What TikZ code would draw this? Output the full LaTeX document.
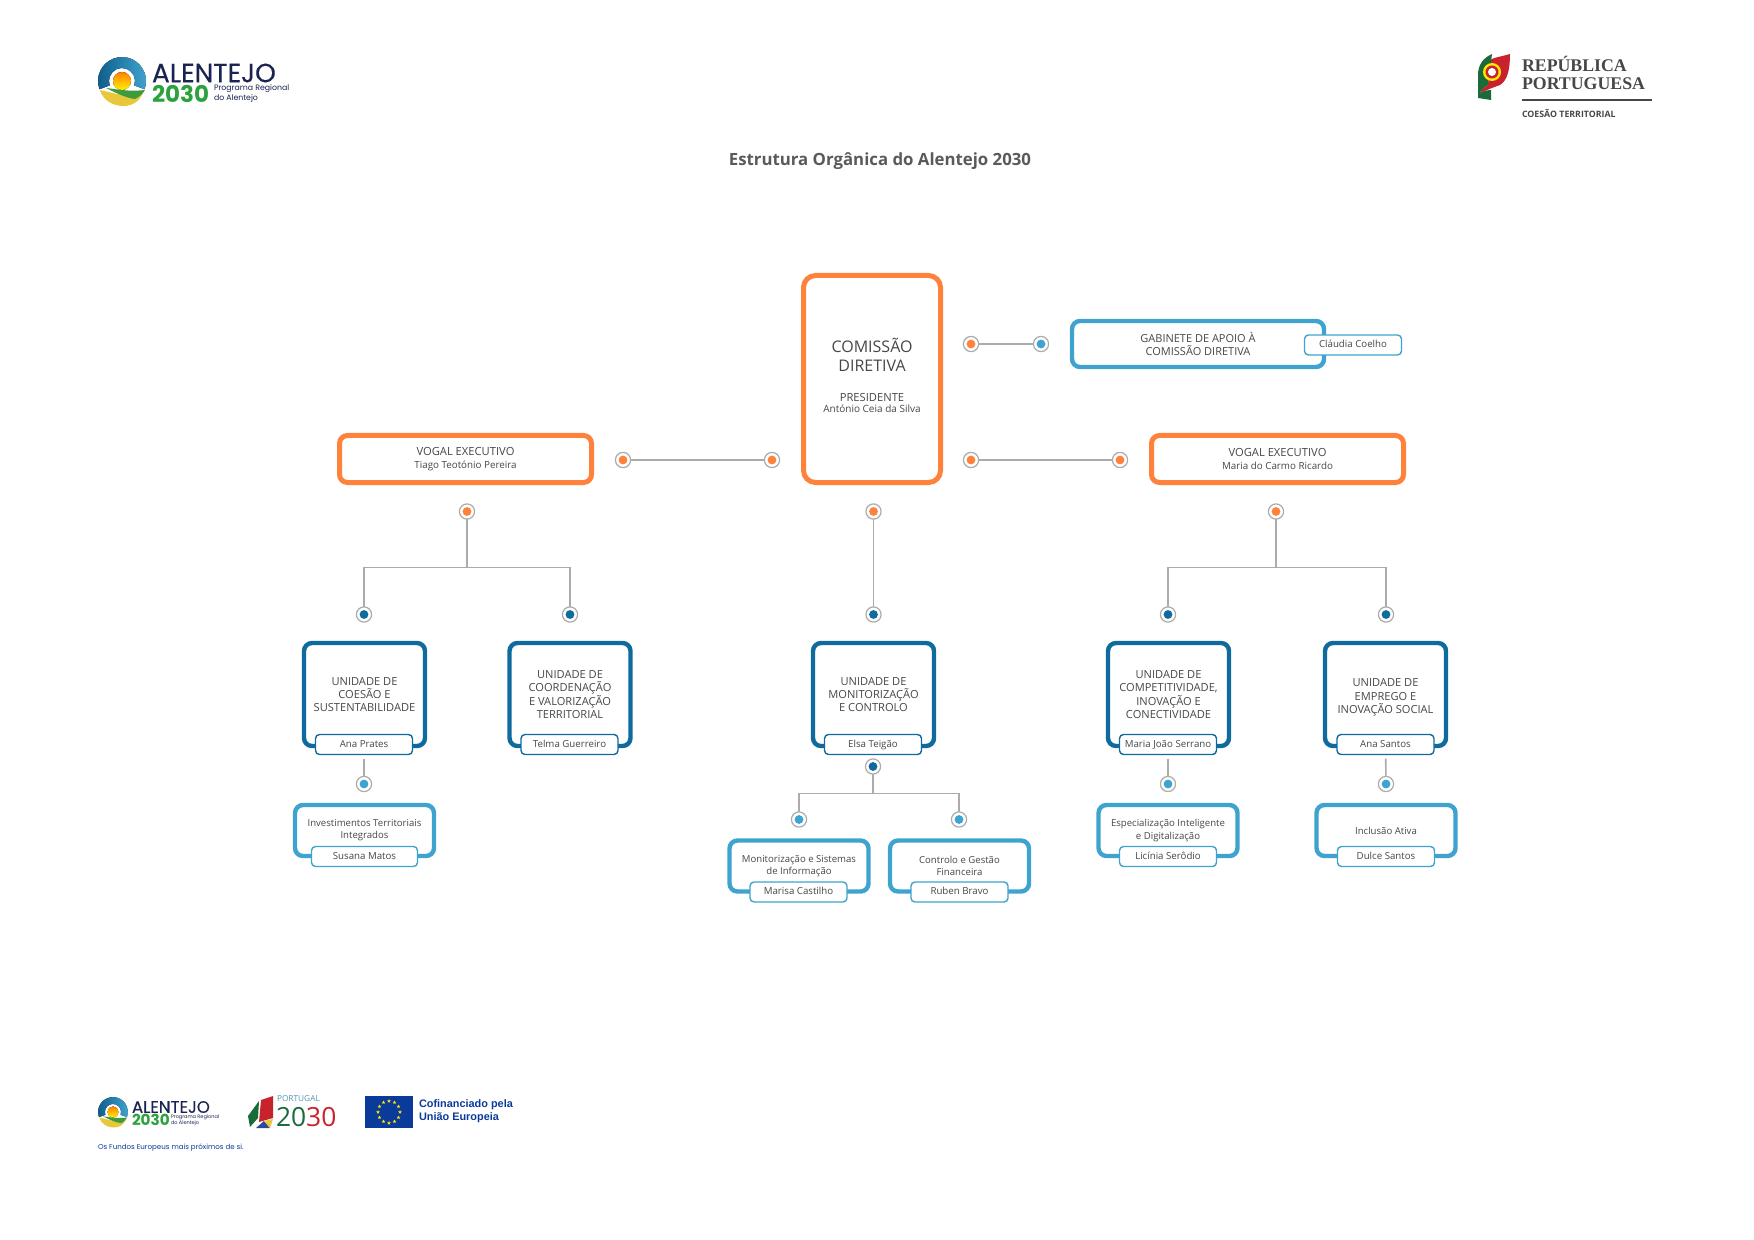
\documentclass[tikz,border=0pt]{standalone}
\usepackage{fontspec}
\setmainfont{Open Sans}
\newfontfamily\logofont{Poppins}
\newfontfamily\logomed[FakeBold=.35]{Poppins}
\newfontfamily\serifont{Liberation Serif}
\newfontfamily\eufont{Liberation Sans}
\usetikzlibrary{shapes.geometric,shadows}
\definecolor{laranja}{HTML}{FF823C}
\definecolor{azulEsc}{HTML}{0F6A9E}
\definecolor{azulCla}{HTML}{3FA3CF}
\definecolor{linha}{HTML}{ABABAB}
\definecolor{texto}{HTML}{474747}
\definecolor{marinho}{HTML}{1B2350}
\definecolor{verde}{HTML}{2BA23B}
\definecolor{euazul}{HTML}{0A3A9A}
\definecolor{verdeLogo}{HTML}{3E9A3A}
\definecolor{amareloLogo}{HTML}{E8C83A}
\definecolor{ptVerde}{HTML}{1A6B3A}
\definecolor{ptVermelho}{HTML}{C8232C}
\definecolor{ptAzul}{HTML}{2A4A9A}
\tikzset{
  box/.style={draw=#1,fill=white,line width=2.2pt,rounded corners=4pt,align=center,text=texto,inner sep=0pt,outer sep=0pt},
  tagbox/.style={draw=#1,fill=white,line width=.7pt,rounded corners=2pt,minimum width=48.5pt,minimum height=10pt,text=texto,
    text height=3.6pt,text depth=1.1pt,inner sep=0pt,outer sep=0pt,font=\fontsize{4.85}{5.5}\selectfont},
  unitbox/.style={box=azulEsc,minimum width=60.5pt,minimum height=51.5pt,font=\fontsize{5.55}{6.7}\selectfont},
  subbox/.style={box=azulCla,minimum width=69.5pt,minimum height=25.5pt,font=\fontsize{4.8}{6.1}\selectfont},
  vogalbox/.style={box=laranja,line width=2.5pt,minimum width=126pt,minimum height=23.5pt,font=\fontsize{5.6}{6.2}\selectfont},
  orgdot/.style={circle,draw=linha,fill=white,line width=.6pt,inner sep=0pt,outer sep=0pt,minimum size=7.6pt,
    path picture={\fill[#1] (path picture bounding box.center) circle (2.2pt);}},
  conn/.style={draw=linha,line width=.8pt},
  logotext/.style={inner sep=0pt,outer sep=0pt,anchor=west},
  alentejo/.pic={
    \begin{scope}[yscale=-1]
      \fill[left color=azulEsc!85!black,right color=azulCla] (200:24) arc (200:-20:24) -- (-20:13) arc (-20:200:13) -- cycle;
      \fill[top color=orange,bottom color=yellow!90!orange] (0,0) circle (9);
      \fill[amareloLogo] (-22,-9) .. controls (-19,-20) and (-8,-25) .. (1,-25) .. controls (10,-25) and (17,-21) .. (21,-12) .. controls (8,-18) and (-8,-12) .. cycle;
      \fill[verdeLogo] (-16,-7) .. controls (-6,-8) and (6,-11) .. (23,-9) .. controls (20,-14) and (17,-16) .. (13,-18) .. controls (4,-17) and (-6,-12) .. cycle;
    \end{scope}
  }
}
\begin{document}
\begin{tikzpicture}[x=0.5pt,y=-0.5pt]
  \useasboundingbox (0,0) rectangle (1754,1240);

  \pic at (122,81) {alentejo};
  \node[logotext,text=marinho] (logoNome) at (152,73) {\logomed\fontsize{13.2}{14}\selectfont ALENTEJO};
  \node[logotext,text=verde] (logoAno) at (152,94) {\logofont\bfseries\fontsize{11.5}{12}\selectfont 2030};
  \node[logotext,text=marinho,align=left,font=\fontsize{3.9}{4}\selectfont] (logoProg) at (214,94) {\logofont Programa Regional\\\logofont do Alentejo};

  \fill[ptVermelho] (1510,54) .. controls (1500,57) and (1495,57) .. (1490,60) -- (1488,85) .. controls (1484,87) and (1481,90) .. (1479,94) .. controls (1486,90) and (1492,88) .. (1500,85) .. controls (1508,80) and (1510,68) .. cycle;
  \fill[ptVerde] (1492,54) .. controls (1483,58) and (1478,65) .. (1478,75) -- (1478,98) -- (1491,100) -- (1491,90) .. controls (1486,90) and (1482,92) .. (1479,94) .. controls (1481,90) and (1484,87) .. (1488,85) -- cycle;
  \fill[yellow!90!orange] (1492,72) circle (9);
  \fill[ptVermelho] (1492,72) circle (6.5);
  \fill[white] (1492,72) circle (4);
  \node[logotext,text=texto] (repNome) at (1522,75.5) {\serifont\bfseries\fontsize{8.9}{9.4}\selectfont\begin{tabular}{@{}l@{}}REPÚBLICA\\[-.1pt]PORTUGUESA\end{tabular}};
  \draw[texto,line width=.8pt] (1522,100) -- (1652,100);
  \node[logotext,text=texto] (repCoesao) at (1522,113) {\bfseries\fontsize{4.4}{5}\selectfont COESÃO TERRITORIAL};

  \node[text=texto!90!white] (titulo) at (880,161.5) {\bfseries\fontsize{8.4}{10}\selectfont Estrutura Orgânica do Alentejo 2030};

  \node[box=laranja,line width=2.5pt,rounded corners=6pt,minimum width=68.5pt,minimum height=103.5pt,font=\fontsize{8}{9.8}\selectfont,
    drop shadow={opacity=.12,shadow xshift=0pt,shadow yshift=-1pt}] (comissao) at (872,379)
    {COMISSÃO\\DIRETIVA\\[4.9pt]\fontsize{5.6}{6}\selectfont PRESIDENTE\\[-4pt]\fontsize{5}{6}\selectfont António Ceia da Silva\rule[-3.7pt]{0pt}{0pt}};
  \node[box=azulCla,minimum width=126pt,minimum height=23pt,font=\fontsize{5.5}{6.8}\selectfont] (gabinete) at (1198,344) {GABINETE DE APOIO À\\COMISSÃO DIRETIVA};
  \node[tagbox=azulCla] (claudia) at (1353,345) {Cláudia Coelho};
  \node[vogalbox] (vogalEsq) at (465.5,459) {VOGAL EXECUTIVO\\\fontsize{4.9}{6}\selectfont Tiago Teotónio Pereira};
  \node[vogalbox] (vogalDir) at (1277.5,459) {VOGAL EXECUTIVO\\\fontsize{4.9}{6}\selectfont Maria do Carmo Ricardo};

  \node[orgdot=laranja] (dotGabA) at (971,344) {};
  \node[orgdot=azulCla] (dotGabB) at (1041,344) {};
  \node[orgdot=laranja] (dotDirA) at (971,460) {};
  \node[orgdot=laranja] (dotDirB) at (1120,460) {};
  \node[orgdot=laranja] (dotEsqA) at (623,460) {};
  \node[orgdot=laranja] (dotEsqB) at (772,460) {};
  \draw[conn] (dotGabA) -- (dotGabB);
  \draw[conn] (dotDirA) -- (dotDirB);
  \draw[conn] (dotEsqA) -- (dotEsqB);

  \node[orgdot=laranja] (dotTopEsq) at (467,511.5) {};
  \node[orgdot=laranja] (dotTopCen) at (873.5,511.5) {};
  \node[orgdot=laranja] (dotTopDir) at (1276,511.5) {};
  \node[orgdot=azulEsc] (dotCoesao) at (364,614.5) {};
  \node[orgdot=azulEsc] (dotCoord) at (570,614.5) {};
  \node[orgdot=azulEsc] (dotMonit) at (873.5,614.5) {};
  \node[orgdot=azulEsc] (dotCompet) at (1168,614.5) {};
  \node[orgdot=azulEsc] (dotEmprego) at (1386,614.5) {};
  \coordinate (juncEsq) at (467,567.5);
  \coordinate (juncDir) at (1276,567.5);
  \draw[conn] (dotTopEsq) -- (juncEsq);
  \draw[conn] (dotCoesao) |- (juncEsq) -| (dotCoord);
  \draw[conn] (dotTopCen) -- (dotMonit);
  \draw[conn] (dotTopDir) -- (juncDir);
  \draw[conn] (dotCompet) |- (juncDir) -| (dotEmprego);

  \node[unitbox] (coesao) at (364.5,694.5) {UNIDADE DE\\COESÃO E\\SUSTENTABILIDADE};
  \node[tagbox=azulEsc] (anaPrates) at (364,744.5) {Ana Prates};
  \node[unitbox] (coord) at (570,694.5) {UNIDADE DE\\COORDENAÇÃO\\E VALORIZAÇÃO\\TERRITORIAL};
  \node[tagbox=azulEsc] (telma) at (569.5,744.5) {Telma Guerreiro};
  \node[unitbox] (monit) at (873.5,694.5) {UNIDADE DE\\MONITORIZAÇÃO\\E CONTROLO};
  \node[tagbox=azulEsc] (elsa) at (873,744.5) {Elsa Teigão};
  \node[unitbox] (compet) at (1168.5,694.5) {UNIDADE DE\\COMPETITIVIDADE,\\INOVAÇÃO E\\CONECTIVIDADE};
  \node[tagbox=azulEsc] (mariaJoao) at (1168,744.5) {Maria João Serrano};
  \node[unitbox] (emprego) at (1385.5,694.5) {\rule{0pt}{7pt}UNIDADE DE\\EMPREGO E\\INOVAÇÃO SOCIAL};
  \node[tagbox=azulEsc] (anaSantos) at (1385.5,744.5) {Ana Santos};

  \node[orgdot=azulCla] (dotInvest) at (364,784) {};
  \node[orgdot=azulEsc] (dotElsa) at (873,766.5) {};
  \node[orgdot=azulCla] (dotSistemas) at (799,819.5) {};
  \node[orgdot=azulCla] (dotGestao) at (959,819.5) {};
  \node[orgdot=azulCla] (dotEspec) at (1168,784) {};
  \node[orgdot=azulCla] (dotInclusao) at (1386,784) {};
  \coordinate (juncElsa) at (873,793.5);
  \draw[conn,shorten <=2pt] (anaPrates) -- (dotInvest);
  \draw[conn,shorten <=2pt] (mariaJoao) -- (dotEspec);
  \draw[conn,shorten <=2pt] (anaSantos) -- (dotInclusao);
  \draw[conn] (dotElsa) -- (juncElsa);
  \draw[conn] (dotSistemas) |- (juncElsa) -| (dotGestao);

  \node[subbox] (invest) at (364.5,830.5) {Investimentos Territoriais\\Integrados};
  \node[tagbox=azulCla,minimum width=53pt] (susana) at (364.5,856.5) {Susana Matos};
  \node[subbox] (sistemas) at (799,866) {Monitorização e Sistemas\\de Informação};
  \node[tagbox=azulCla] (marisa) at (798.5,892) {Marisa Castilho};
  \node[subbox] (gestao) at (959.5,866) {Controlo e Gestão\\Financeira};
  \node[tagbox=azulCla] (ruben) at (959.5,892) {Ruben Bravo};
  \node[subbox] (espec) at (1168,830.5) {Especialização Inteligente\\e Digitalização};
  \node[tagbox=azulCla] (licinia) at (1168,856.5) {Licínia Serôdio};
  \node[subbox] (inclusao) at (1386,830.5) {Inclusão Ativa};
  \node[tagbox=azulCla] (dulce) at (1386,856.5) {Dulce Santos};

  \pic[scale=.62] at (113,1112) {alentejo};
  \node[logotext,text=marinho] (rodNome) at (132,1107) {\logomed\fontsize{8.3}{9}\selectfont ALENTEJO};
  \node[logotext,text=verde] (rodAno) at (132,1120) {\logofont\bfseries\fontsize{7.6}{8}\selectfont 2030};
  \node[logotext,text=marinho,align=left,font=\fontsize{2.5}{3}\selectfont] (rodProg) at (171,1120) {\logofont Programa Regional\\\logofont do Alentejo};

  \fill[ptVerde] (259,1101) -- (248,1116) -- (250,1127) -- (258,1118) -- cycle;
  \fill[ptVermelho] (261,1100) -- (273,1096) -- (273,1118) -- (259,1122) -- cycle;
  \fill[ptAzul] (256,1128) -- (264,1121) -- (270,1128) -- cycle;
  \fill[amareloLogo] (264,1121) -- (273,1119) -- (270,1128) -- cycle;
  \node[logotext,text=azulCla!70!gray] (ptNome) at (277,1099) {\fontsize{4.15}{5}\selectfont PORTUGAL};
  \node[logotext] (ptAno) at (276,1117) {\fontsize{13.2}{14}\selectfont\textcolor{ptVerde}{20}\textcolor{ptVermelho}{30}};

  \fill[euazul] (365,1096) rectangle (413,1128);
  \foreach \i in {1,...,12}
    \node[star,star points=5,star point ratio=2.4,fill=yellow!90!orange,inner sep=0pt,minimum size=2pt] (euStar\i) at ({389+11*cos(30*\i)},{1112+11*sin(30*\i)}) {};
  \node[logotext,text=euazul,align=left,font=\fontsize{5.45}{6.7}\selectfont] (euTexto) at (419,1111) {\eufont\bfseries Cofinanciado pela\\\eufont\bfseries União Europeia};
  \node[logotext,text=euazul] (fundos) at (98,1148) {\logofont\fontsize{3.55}{4}\selectfont Os Fundos Europeus mais próximos de si.};
\end{tikzpicture}
\end{document}
